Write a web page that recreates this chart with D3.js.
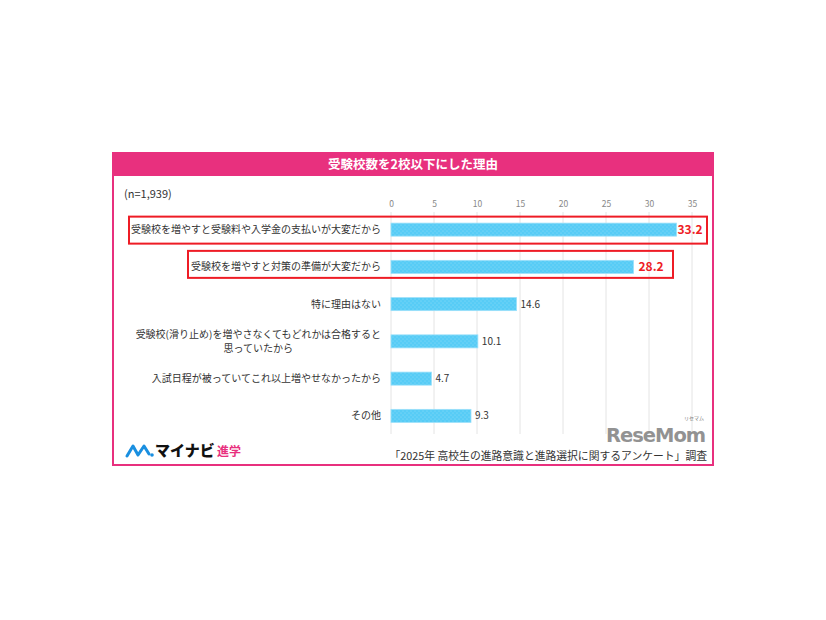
<!DOCTYPE html>
<html><head><meta charset="utf-8">
<script src="https://cdn.jsdelivr.net/npm/d3@7"></script>
<style>
html,body{margin:0;padding:0;background:#fff;}
svg{display:block;font-family:"Noto Sans CJK JP","Noto Sans",sans-serif;}
</style></head>
<body><svg id="c" width="826" height="620"></svg>
<script>
const title = "受験校数を2校以下にした理由";
const sampleNote = "(n=1,939)";
const categories = [
  ["受験校を増やすと受験料や入学金の支払いが大変だから"],
  ["受験校を増やすと対策の準備が大変だから"],
  ["特に理由はない"],
  ["受験校(滑り止め)を増やさなくてもどれかは合格すると", "思っていたから"],
  ["入試日程が被っていてこれ以上増やせなかったから"],
  ["その他"]
];
const values = [33.2, 28.2, 14.6, 10.1, 4.7, 9.3];
const highlighted = [true, true, false, false, false, false];
const tickValues = [0, 5, 10, 15, 20, 25, 30, 35];
const source = "「2025年  高校生の進路意識と進路選択に関するアンケート」調査";

const pink = "#e8307e";
const svg = d3.select("#c");

// frame
svg.append("rect").attr("x",113).attr("y",153).attr("width",600).attr("height",312)
  .attr("fill","#fff").attr("stroke",pink).attr("stroke-width",2);
svg.append("rect").attr("x",112).attr("y",152).attr("width",602).attr("height",24).attr("fill",pink);
svg.append("text").attr("x",413).attr("y",168.5).attr("text-anchor","middle")
  .attr("fill","#fff").attr("font-size",12.5).attr("font-weight","bold").text(title);
svg.append("text").attr("x",124).attr("y",198).attr("fill","#333").attr("font-size",11).text(sampleNote);

const x = d3.scaleLinear().domain([0,35]).range([391,692]);
const y = d3.scaleBand().domain(d3.range(categories.length)).range([211,434.5]).paddingInner(0.65).paddingOuter(0.325);

// pattern
const defs = svg.append("defs");
const pat = defs.append("pattern").attr("id","dots").attr("patternUnits","userSpaceOnUse").attr("width",4).attr("height",4);
pat.append("rect").attr("width",4).attr("height",4).attr("fill","#57ccf6");
pat.append("circle").attr("cx",1).attr("cy",1).attr("r",0.6).attr("fill","#8fdcf9");
pat.append("circle").attr("cx",3).attr("cy",3).attr("r",0.6).attr("fill","#8fdcf9");

// grid
const axis = d3.axisTop(x).tickValues(tickValues).tickSize(0).tickPadding(0).tickFormat(d3.format("d"));
const gA = svg.append("g").attr("transform","translate(0,207)").call(axis);
gA.select(".domain").remove();
gA.selectAll("text").attr("fill","#888").attr("font-size",8.5).attr("font-family","'Noto Sans CJK JP',sans-serif");
svg.append("g").selectAll("line").data(tickValues).join("line")
  .attr("x1",d=>x(d)).attr("x2",d=>x(d)).attr("y1",212).attr("y2",434)
  .attr("stroke","#e4e4e4").attr("stroke-width",1);

// bars
svg.append("g").selectAll("rect").data(values).join("rect")
  .attr("x",x(0)).attr("y",(d,i)=>y(i)).attr("width",d=>x(d)-x(0)).attr("height",y.bandwidth())
  .attr("fill","url(#dots)").attr("stroke","#9be0fa").attr("stroke-width",0.8);

// category labels
const lg = svg.append("g");
categories.forEach((lines,i)=>{
  const cy = y(i)+y.bandwidth()/2;
  if(lines.length===1){
    lg.append("text").attr("x",381).attr("y",cy).attr("dy","0.36em").attr("text-anchor","end")
      .attr("fill","#333").attr("font-size",10).text(lines[0]);
  } else {
    const t1 = lg.append("text").attr("x",381).attr("y",cy-7).attr("dy","0.36em").attr("text-anchor","end")
      .attr("fill","#333").attr("font-size",10).text(lines[0]);
    const w = t1.node().getComputedTextLength();
    lg.append("text").attr("x",381-w/2).attr("y",cy+7).attr("dy","0.36em").attr("text-anchor","middle")
      .attr("fill","#333").attr("font-size",10).text(lines[1]);
  }
});

// value labels
svg.append("g").selectAll("text").data(values).join("text")
  .attr("x",(d,i)=>x(d)+(highlighted[i]?(i===0?1:5):4))
  .attr("y",(d,i)=>y(i)+y.bandwidth()/2).attr("dy","0.36em")
  .attr("fill",(d,i)=>highlighted[i]?"#ee1c25":"#333")
  .attr("font-size",(d,i)=>highlighted[i]?12:10)
  .attr("font-weight",(d,i)=>highlighted[i]?"bold":"normal")
  .text(d=>d.toFixed(1));

// highlight boxes
const boxes = [{i:0,x0:129,x1:707,dy:0.5},{i:1,x0:188,x1:673,dy:-2.5}];
svg.append("g").selectAll("rect").data(boxes).join("rect")
  .attr("x",d=>d.x0).attr("width",d=>d.x1-d.x0)
  .attr("y",d=>y(d.i)+y.bandwidth()/2+d.dy-13.5).attr("height",27)
  .attr("fill","none").attr("stroke","#ee1c25").attr("stroke-width",2);

// logo
const lgo = svg.append("g");
lgo.append("path").attr("d","M127,456 L133,446 L138,455 L144,446 L149,454")
  .attr("fill","none").attr("stroke","#1a8fe0").attr("stroke-width",3).attr("stroke-linecap","round").attr("stroke-linejoin","round");
lgo.append("circle").attr("cx",152).attr("cy",455).attr("r",1.8).attr("fill","#1a8fe0");
lgo.append("text").attr("x",155).attr("y",456).attr("font-size",15).attr("font-weight","900").attr("fill","#111").text("マイナビ");
lgo.append("text").attr("x",217).attr("y",456).attr("font-size",12).attr("font-weight","bold").attr("fill",pink).text("進学");

// source
svg.append("text").attr("x",707).attr("y",460).attr("text-anchor","end").attr("fill","#333").attr("font-size",10.8).text(source);

// watermark
svg.append("text").attr("x",606).attr("y",441.5).attr("font-size",19.5).attr("font-weight","bold")
  .attr("fill","#777").attr("opacity",0.8).attr("font-family","'DejaVu Sans',sans-serif").attr("letter-spacing",-1).text("ReseMom");
svg.append("text").attr("x",684).attr("y",420).attr("font-size",5).attr("fill","#777").text("リセマム");
</script></body></html>
